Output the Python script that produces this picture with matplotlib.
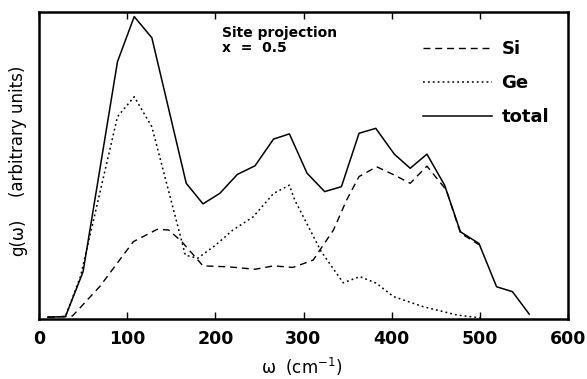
import matplotlib.pyplot as plt

plt.rcParams['font.family'] = ['DejaVu Sans']

# total DOS (solid)
w_total = [10, 20, 30, 50, 89, 108, 128, 167, 186, 205, 225, 245, 266, 284,
           304, 324, 343, 363, 382, 403, 421, 440, 460, 478, 499, 519, 537, 556]
g_total = [0.6, 0.7, 0.8, 15.4, 83.8, 98.5, 91.6, 44.2, 37.5, 40.9, 47.1, 49.9, 58.6, 60.3,
           47.5, 41.5, 43.1, 60.5, 62.1, 53.7, 49.1, 53.7, 43.6, 28.4, 24.6, 10.5, 8.9, 1.6]

# Ge projection (dotted)
w_ge = [10, 20, 30, 47, 89, 108, 128, 166, 180, 200, 220, 243, 266, 284,
        290, 320, 345, 364, 383, 402, 436, 474, 500]
g_ge = [0.6, 0.7, 0.8, 13.8, 65.9, 72.4, 62.6, 20.8, 19.8, 24.0, 29.0, 33.3, 40.9, 43.6,
        38.8, 22.0, 11.8, 13.8, 11.6, 7.3, 4.0, 1.3, 0.4]

# Si projection (dashed)
w_si = [10, 30, 38, 69, 107, 134, 147, 162, 186, 215, 245, 266, 288, 311,
        334, 349, 363, 383, 403, 421, 440, 462, 478, 499]
g_si = [0.6, 0.8, 1.0, 10.6, 25.2, 29.2, 29.0, 25.2, 17.3, 17.0, 16.2, 17.3, 16.8, 19.2,
        29.0, 38.8, 46.4, 49.6, 46.9, 44.2, 49.8, 42.0, 28.0, 24.2]

W, H = 587, 379
fig = plt.figure(figsize=(W / 100, H / 100), dpi=100)
ax = fig.add_axes([39 / W, 60 / H, 529 / W, 307 / H])

ax.plot(w_si, g_si, color='black', linestyle=(0, (5, 3.5)), linewidth=1.0, label='Si')
ax.plot(w_ge, g_ge, color='black', linestyle=(0, (1.2, 2.0)), linewidth=1.1, label='Ge')
ax.plot(w_total, g_total, color='black', linestyle='-', linewidth=1.1, label='total')

ax.set_xlim(0, 600)
ax.set_ylim(0, 100)
ax.set_xticks([0, 100, 200, 300, 400, 500, 600])
ax.set_yticks([])
ax.tick_params(axis='x', direction='in', length=5, width=1, top=True, labelsize=12.5, pad=8)
for lab in ax.get_xticklabels():
    lab.set_fontweight('bold')
for s in ax.spines.values():
    s.set_linewidth(1.8)

# axis titles placed in figure pixels
fig.text(302 / W, 1 - 367 / H, 'ω  (cm$^{-1}$)', fontsize=12, ha='center', va='center')
fig.text(18 / W, 1 - 131 / H, '(arbitrary units)', fontsize=12, rotation=90,
         ha='center', va='center')
fig.text(18 / W, 1 - 237 / H, 'g(ω)', fontsize=12, rotation=90,
         ha='center', va='center')

ax.text(208, 95.5, 'Site projection\nx  =  0.5', fontsize=10, fontweight='bold',
        va='top', ha='left', linespacing=1.15)

leg = ax.legend(loc='upper right', bbox_to_anchor=(0.995, 0.962), frameon=False,
                handlelength=3.8, handletextpad=0.55, labelspacing=0.9,
                prop={'size': 13, 'weight': 'bold'})

fig.savefig('out.png', dpi=100)
